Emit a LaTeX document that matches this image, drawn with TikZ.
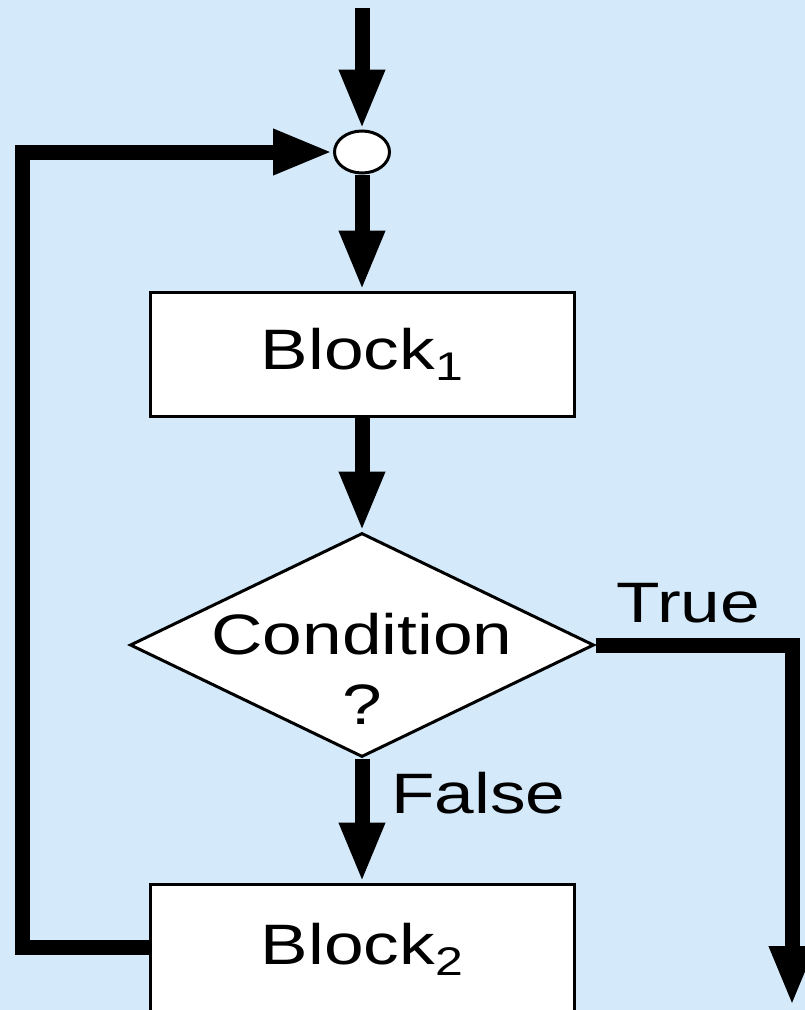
\documentclass[tikz,border=0pt]{standalone}
\usepackage{fontspec}
\usetikzlibrary{arrows.meta,shapes.geometric}
\newfontfamily\lblfont[FakeStretch=1.25]{Liberation Sans}
\definecolor{panelblue}{RGB}{212,234,250}
\newcommand{\lblsize}{\fontsize{57}{70}\selectfont}
\newcommand{\subidx}[1]{\raisebox{-11pt}{\fontsize{40}{40}\selectfont #1}}
\begin{document}
\begin{tikzpicture}[x=1pt,y=-1pt,
  box/.style={draw=black,line width=3pt,fill=white,minimum width=424pt,
    minimum height=124pt,inner sep=0pt,font=\lblfont\lblsize},
  flow/.style={line width=15pt,-{Triangle[length=60pt,width=42pt]}},
  plainflow/.style={line width=15pt},
  lbl/.style={font=\lblfont\lblsize,inner sep=0pt}]
  \useasboundingbox (0,0) rectangle (805,1010);
  \clip (0,0) rectangle (805,1010);
  \fill[panelblue] (0,0) rectangle (805,1010);

  % nodes
  \node[draw=black,line width=3pt,fill=white,ellipse,minimum width=55pt,
    minimum height=42pt,inner sep=0pt] (junc) at (362,152) {};
  \node[box] (block1) at (362,354) {Block\subidx{1}};
  \node[draw=black,line width=3pt,fill=white,diamond,minimum width=464pt,
    minimum height=224pt,inner sep=0pt] (cond) at (362,645) {};
  \node[lbl,align=center] (condtext) at (362,669) {Condition\\?};
  \node[box,minimum height=130pt] (block2) at (362,949) {Block\subidx{2}};

  \coordinate (start) at (362,8);
  \coordinate (loopcorner) at (22,947);
  \coordinate (trueend) at (792,1006);

  % connectors
  \draw[flow] (start) -- (junc.north);
  \draw[flow] (junc.south) -- (block1.north);
  \draw[flow] (block1.south) -- (cond.north);
  \draw[flow] (cond.south) -- (block2.north);
  \draw[flow] (block2.west |- loopcorner) -- (loopcorner) |- (junc.west);
  \draw[flow] (cond.east) -| (trueend);

  % branch labels
  \node[lbl,anchor=base west] (truelbl) at (616,622) {True};
  \node[lbl,anchor=base west] (falselbl) at (391,813) {False};
\end{tikzpicture}
\end{document}
